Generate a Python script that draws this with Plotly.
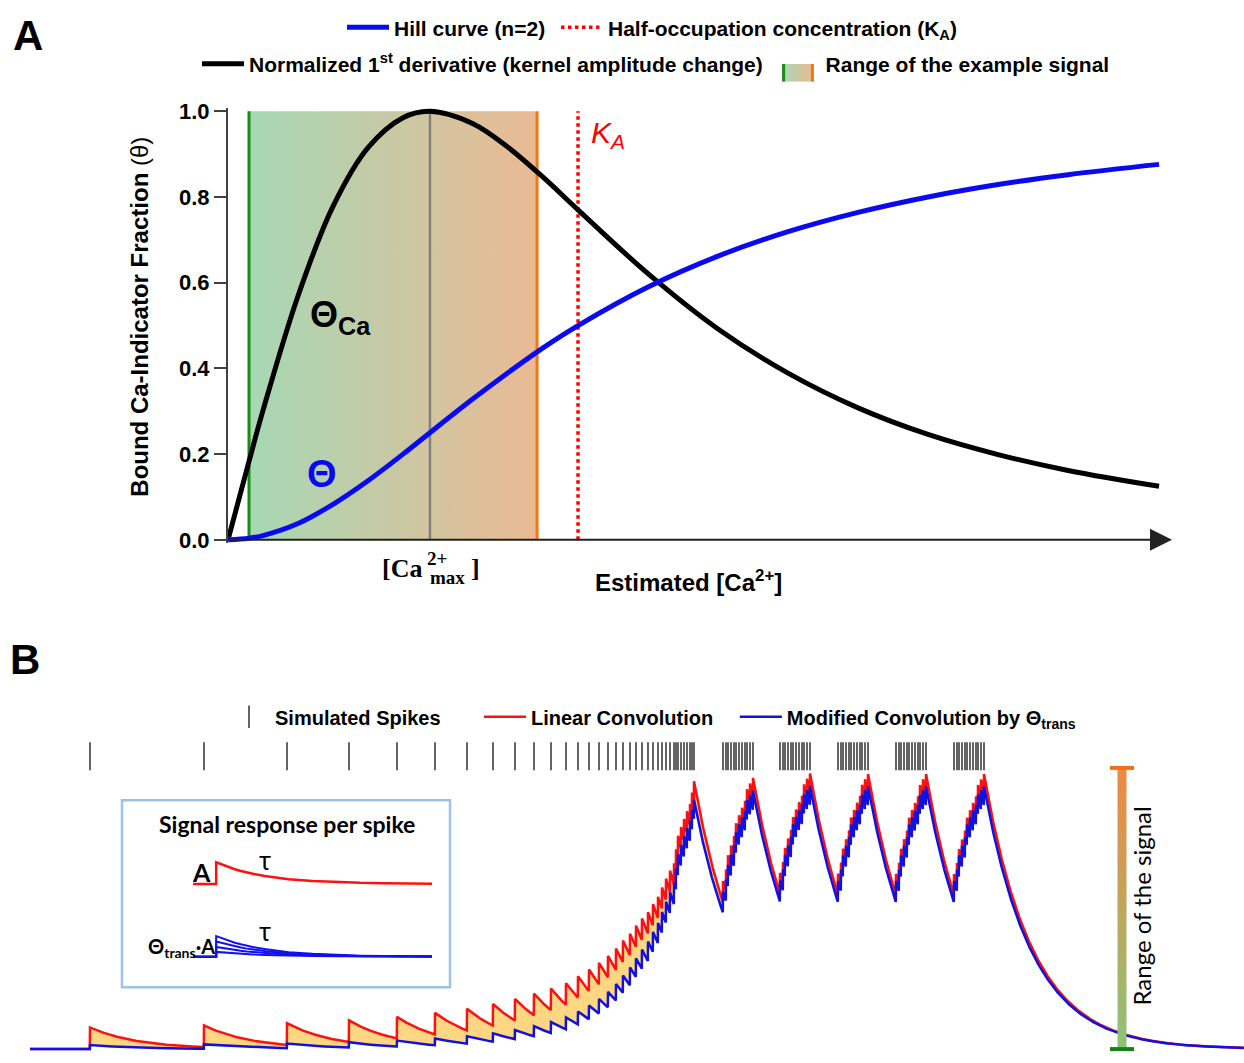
import numpy as np
import plotly.graph_objects as go

W, H = 1244, 1063

# ---------------- Panel A data (concentration in units of K_A) ----------------
hill_x = [0, 0.06, 0.1, 0.2, 0.3, 0.4, 0.5, 0.577, 0.7, 0.8, 0.9, 1.0, 1.2, 1.4, 1.6, 1.8, 2.0, 2.2, 2.4, 2.66]
hill_theta = [0, 0.004, 0.010, 0.038, 0.083, 0.138, 0.200, 0.250, 0.329, 0.390, 0.448, 0.500,
              0.590, 0.662, 0.719, 0.764, 0.800, 0.829, 0.852, 0.876]
deriv_norm = [0, 0.183, 0.302, 0.569, 0.778, 0.915, 0.985, 1.0, 0.971, 0.916, 0.846, 0.770,
              0.621, 0.492, 0.389, 0.308, 0.246, 0.199, 0.162, 0.125]
range_lo, range_hi = 0.06, 0.883
ca_max = 0.577
k_a = 1.0
y_ticks = [0.0, 0.2, 0.4, 0.6, 0.8, 1.0]

# ---------------- Panel B data ----------------
spike_times = [
    0.60, 1.74, 2.57, 3.19, 3.67, 4.05, 4.37, 4.63, 4.85, 5.04, 5.21, 5.36, 5.48, 5.59, 5.69,
    5.78, 5.86, 5.93, 6.00, 6.06, 6.12, 6.18, 6.23, 6.28, 6.32, 6.36, 6.40, 6.44, 6.46, 6.48, 6.51,
    6.54, 6.57, 6.60, 6.62, 6.64,
    6.93, 6.96, 6.98, 7.01, 7.04, 7.06, 7.09, 7.12, 7.15, 7.17, 7.20, 7.23,
    7.50, 7.53, 7.55, 7.58, 7.61, 7.63, 7.66, 7.69, 7.72, 7.74, 7.77, 7.80,
    8.08, 8.11, 8.13, 8.16, 8.19, 8.21, 8.24, 8.27, 8.30, 8.32, 8.35, 8.38,
    8.66, 8.69, 8.71, 8.74, 8.77, 8.79, 8.82, 8.85, 8.88, 8.90, 8.93, 8.96,
    9.24, 9.27, 9.29, 9.32, 9.35, 9.37, 9.40, 9.43, 9.46, 9.48, 9.51, 9.54,
]
kernel_amp = 0.22
kernel_tau = 0.48
t_end = 12.14
range_bar_t = 10.92

# inset kernel
inset_t = [0, 0.97, 0.97, 1.25, 1.5, 1.75, 2.0, 2.25, 2.5, 3.0, 3.5, 4.0, 5.0, 6.0, 7.0, 8.0, 9.0, 10.0]
inset_h = [0, 0, 1.0, 0.88, 0.77, 0.68, 0.60, 0.53, 0.47, 0.37, 0.29, 0.22, 0.14, 0.08, 0.05, 0.03, 0.02, 0.01]
inset_factors = [0.95, 0.70, 0.45, 0.22]

# ---------------- helpers ----------------
def px(x):
    return x / W

def py(y):
    return 1 - y / H

NB = "\u00a0"
FONT = "Liberation Sans"
SHADE_CS = [[0, "rgb(166,216,180)"], [1, "rgb(235,186,148)"]]
GREEN, ORANGE = "#1a8a1a", "#f07818"
fig = go.Figure()

# ---------- Panel A traces ----------
fig.add_trace(go.Scatter(
    x=[range_lo, range_hi, range_hi, range_lo, range_lo], y=[0, 0, 1, 1, 0],
    fill="toself", mode="lines", line=dict(width=0),
    fillgradient=dict(type="horizontal", colorscale=SHADE_CS),
    showlegend=False, xaxis="x", yaxis="y", hoverinfo="skip"))
# legend entry for the shaded range (swatch drawn separately below)
fig.add_trace(go.Scatter(x=[None], y=[None], mode="lines", line=dict(width=0, color="rgba(0,0,0,0)"),
                         name="Range of the example signal", legend="legend2", legendrank=2,
                         xaxis="x", yaxis="y"))
for xv, col, w in [(range_lo, GREEN, 3), (ca_max, "#808080", 2.5), (range_hi, ORANGE, 3)]:
    fig.add_trace(go.Scatter(x=[xv, xv], y=[0, 1], mode="lines", line=dict(color=col, width=w),
                             showlegend=False, xaxis="x", yaxis="y", hoverinfo="skip"))
fig.add_trace(go.Scatter(x=[k_a, k_a], y=[0, 1], mode="lines",
                         line=dict(color="#ff0000", width=3.5, dash="dot"),
                         name="Half-occupation concentration (K<sub>A</sub>)",
                         legend="legend", legendrank=2, xaxis="x", yaxis="y"))
fig.add_trace(go.Scatter(x=hill_x, y=deriv_norm, mode="lines", line=dict(color="black", width=5, shape="spline"),
                         name="Normalized 1<sup>st</sup> derivative (kernel amplitude change)" + NB,
                         legend="legend2", legendrank=1, xaxis="x", yaxis="y"))
fig.add_trace(go.Scatter(x=hill_x, y=hill_theta, mode="lines", line=dict(color="#0a0af0", width=5, shape="spline"),
                         name="Hill curve (n=2)" + NB, legend="legend", legendrank=1, xaxis="x", yaxis="y"))

# legend swatch: gradient with green / orange edges
fig.add_trace(go.Scatter(x=[0, 1, 1, 0, 0], y=[0, 0, 1, 1, 0], fill="toself", mode="lines", line=dict(width=0),
                         fillgradient=dict(type="horizontal", colorscale=SHADE_CS),
                         showlegend=False, xaxis="x4", yaxis="y4", hoverinfo="skip"))
for xv, col in [(0.05, GREEN), (0.95, ORANGE)]:
    fig.add_trace(go.Scatter(x=[xv, xv], y=[0, 1], mode="lines", line=dict(color=col, width=3),
                             showlegend=False, xaxis="x4", yaxis="y4", hoverinfo="skip"))

# ---------- Panel B computation ----------
t = np.arange(0, t_end, 0.002)
st = np.array(spike_times)
lin = np.zeros_like(t)
for s in st:
    m = t >= s
    lin[m] += kernel_amp * np.exp(-(t[m] - s) / kernel_tau)
lin_max = lin.max()
# modified amplitudes: scaled by normalised derivative at the current signal level
factors = []
for k, s in enumerate(st):
    level = sum(kernel_amp * np.exp(-(s - st[j]) / kernel_tau) for j in range(k))
    c = range_lo + (range_hi - range_lo) * level / lin_max
    factors.append(float(np.interp(c, hill_x, deriv_norm)))
mod = np.zeros_like(t)
for s, f in zip(st, factors):
    m = t >= s
    mod[m] += kernel_amp * f * np.exp(-(t[m] - s) / kernel_tau)

# fill between the two convolutions
fig.add_trace(go.Scatter(x=t, y=mod, mode="lines", line=dict(width=0), showlegend=False,
                         xaxis="x2", yaxis="y2", hoverinfo="skip"))
fig.add_trace(go.Scatter(x=t, y=lin, mode="lines", line=dict(width=0), fill="tonexty",
                         fillcolor="rgb(255,214,130)", showlegend=False,
                         xaxis="x2", yaxis="y2", hoverinfo="skip"))
fig.add_trace(go.Scatter(x=t, y=lin, mode="lines", line=dict(color="#ff1010", width=2.5),
                         name="Linear Convolution" + NB * 3, legend="legend3", legendrank=2,
                         xaxis="x2", yaxis="y2", hoverinfo="skip"))
fig.add_trace(go.Scatter(x=t, y=mod, mode="lines", line=dict(color="#1010e0", width=2.5),
                         name="Modified Convolution by Θ<sub>trans</sub>", legend="legend3", legendrank=3,
                         xaxis="x2", yaxis="y2", hoverinfo="skip"))
fig.add_trace(go.Scatter(x=st, y=[2.98] * len(st), mode="markers",
                         marker=dict(symbol="line-ns", size=20, line=dict(width=1.4, color="#222")),
                         name="Simulated Spikes" + NB * 6, legend="legend3", legendrank=1,
                         xaxis="x2", yaxis="y2", hoverinfo="skip"))
# range bar
bar_top = 2.86
fig.add_trace(go.Scatter(
    x=[range_bar_t - 0.045, range_bar_t + 0.045, range_bar_t + 0.045, range_bar_t - 0.045, range_bar_t - 0.045],
    y=[0, 0, bar_top, bar_top, 0], fill="toself", mode="lines", line=dict(width=0),
    fillgradient=dict(type="vertical", colorscale=[[0, "rgb(140,196,118)"], [1, "rgb(240,136,66)"]]),
    showlegend=False, xaxis="x2", yaxis="y2", hoverinfo="skip"))
fig.add_trace(go.Scatter(x=[range_bar_t - 0.12, range_bar_t + 0.12], y=[bar_top, bar_top], mode="lines",
                         line=dict(color="#f07018", width=4), showlegend=False, xaxis="x2", yaxis="y2"))
fig.add_trace(go.Scatter(x=[range_bar_t - 0.12, range_bar_t + 0.12], y=[0, 0], mode="lines",
                         line=dict(color="#128212", width=4), showlegend=False, xaxis="x2", yaxis="y2"))

# ---------- inset ----------
red_off = 3.36
fig.add_trace(go.Scatter(x=inset_t, y=[h + red_off for h in inset_h], mode="lines",
                         line=dict(color="#ff1010", width=2.5), showlegend=False, xaxis="x3", yaxis="y3"))
for f in inset_factors:
    fig.add_trace(go.Scatter(x=inset_t, y=[h * f for h in inset_h], mode="lines",
                             line=dict(color="#1010f0", width=2), showlegend=False, xaxis="x3", yaxis="y3"))

# ---------- layout ----------
ann = []
def A(x, y, text, size, color="black", family=FONT, weight="normal", **kw):
    d = dict(x=px(x), y=py(y), xref="paper", yref="paper", text=text, showarrow=False,
             xanchor="center", yanchor="middle",
             font=dict(size=size, color=color, family=family, weight=weight))
    d.update(kw)
    ann.append(d)

A(28, 27, "A", 42, weight="bold")
A(25, 662, "B", 42, weight="bold")
A(140, 313, "Bound Ca-Indicator Fraction <span style='font-weight:normal'>(θ)</span>", 24, weight="bold", textangle=-90)
A(608, 128, "<i>K<sub>A</sub></i>", 30, color="#ff0000")
A(340, 313, "Θ<sub>Ca</sub>", 36, weight="bold")
A(322, 473, "Θ", 38, color="#0a0af0", weight="bold")
A(402, 569, "[Ca", 26, family="Liberation Serif", weight="bold")
A(437, 559, "2+", 19, family="Liberation Serif", weight="bold")
A(447, 578, "max", 19, family="Liberation Serif", weight="bold")
A(475, 569, "]", 26, family="Liberation Serif", weight="bold")
A(688, 582, "Estimated [Ca<sup>2+</sup>]", 24, weight="bold")
# inset texts
A(287, 829, "Signal response per spike", 23, family="Lato", weight="bold")
A(202, 878, "A", 25, family="Lato", weight="bold")
A(265, 866, "τ", 26, family="Lato")
A(265, 938, "τ", 26, family="Lato")
A(181, 955, "Θ<sub>trans</sub>·A", 20, family="Lato", weight="bold")
A(1142, 913, "Range of the signal", 24, family="Lato", textangle=-90)

# x-axis arrow for panel A
ann.append(dict(x=2.697, y=0, xref="x", yref="y", ax=0, ay=0, axref="x", ayref="y", text="",
                showarrow=True, arrowhead=2, arrowsize=2.2, arrowwidth=2, arrowcolor="#222"))

shapes = [dict(type="rect", xref="paper", yref="paper", x0=px(122), x1=px(450), y0=py(995), y1=py(805),
               line=dict(color="#9dc3e6", width=2.5), fillcolor="rgba(0,0,0,0)", layer="below")]

def leg(x, y, size):
    return dict(x=px(x), y=py(y), orientation="h", xanchor="center", yanchor="middle",
                bgcolor="rgba(0,0,0,0)", traceorder="normal",
                font=dict(family=FONT, size=size, color="black", weight="bold"), itemwidth=42)

fig.update_layout(
    width=W, height=H, margin=dict(l=0, r=0, t=0, b=0),
    paper_bgcolor="white", plot_bgcolor="rgba(0,0,0,0)",
    xaxis=dict(domain=[px(228), px(1172)], range=[0, 2.697], visible=False),
    yaxis=dict(domain=[py(543.5), py(100.5)], range=[-0.008, 1.008], tickvals=y_ticks,
               ticktext=[f"{v:.1f}" for v in y_ticks], ticks="outside", ticklen=12, tickwidth=2,
               tickcolor="#404040", showline=True, linecolor="#404040", linewidth=2,
               showgrid=False, zeroline=False,
               tickfont=dict(family=FONT, size=22, color="black", weight="bold")),
    xaxis2=dict(domain=[px(30), 1], range=[0, t_end], visible=False),
    yaxis2=dict(domain=[0, py(700)], range=[-0.05, 3.58], visible=False),
    xaxis3=dict(domain=[px(193), px(432)], range=[0, 10], visible=False),
    yaxis3=dict(domain=[py(975), py(855)], range=[-0.5, 4.95], visible=False),
    xaxis4=dict(domain=[px(782), px(814)], range=[0, 1], visible=False, fixedrange=True),
    yaxis4=dict(domain=[py(74), py(56)], range=[0, 1], visible=False, fixedrange=True),
    legend=leg(652, 19, 21),
    legend2=leg(656, 56, 21),
    legend3=leg(652, 720, 20),
    annotations=ann, shapes=shapes, showlegend=True,
)

fig.write_html("out.html", config={"displayModeBar": False},
               post_script="document.body.style.margin='0';")
